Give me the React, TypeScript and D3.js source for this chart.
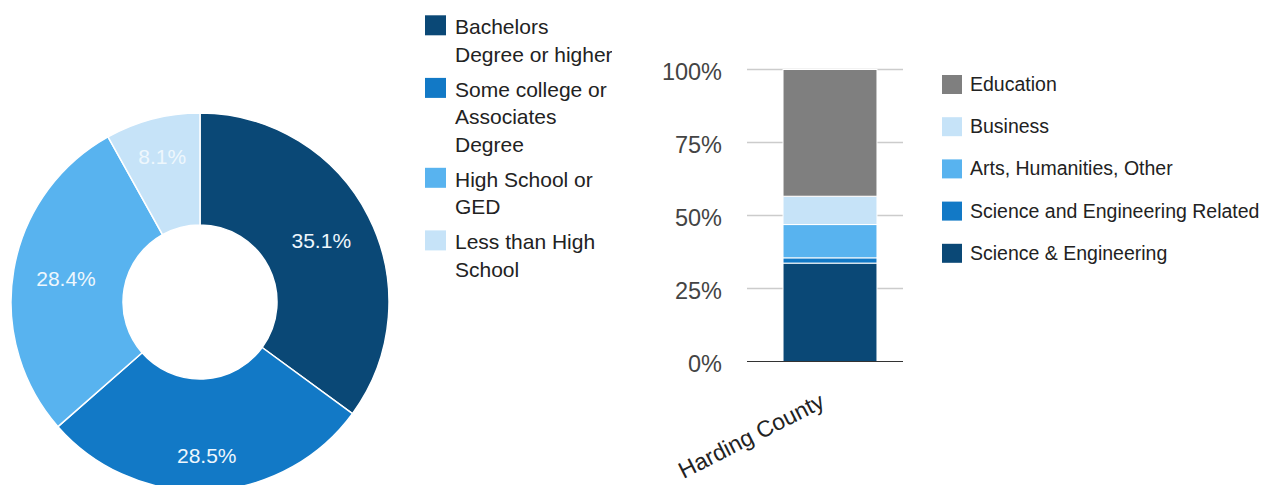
import React from "react";
import * as d3 from "d3";

// ---- Donut data (educational attainment) ----
const attainmentLabels: string[][] = [
  ["Bachelors", "Degree or higher"],
  ["Some college or", "Associates", "Degree"],
  ["High School or", "GED"],
  ["Less than High", "School"],
];
const attainmentValues = [35.1, 28.5, 28.4, 8.1];
const attainmentColors = ["#0a4876", "#1279c6", "#58b3ef", "#c6e3f8"];
const attainmentLabelRadius = [136, 154, 136, 150];

// ---- Stacked bar data (field of degree) ----
const barCategories = ["Harding County"];
const fieldNames = [
  "Science & Engineering",
  "Science and Engineering Related",
  "Arts, Humanities, Other",
  "Business",
  "Education",
];
const fieldValues = [33.7, 1.8, 11.4, 9.7, 43.4];
const fieldColors = ["#0a4876", "#1279c6", "#58b3ef", "#c6e3f8", "#7f7f7f"];
const yTicks = [0, 25, 50, 75, 100];

const FONT = "'Liberation Sans', Arial, Helvetica, sans-serif";

export default function App() {
  const W = 1273;
  const H = 485;

  // Donut geometry
  const cx = 200;
  const cy = 302;
  const outerR = 189;
  const innerR = 77;

  const pie = d3
    .pie<number>()
    .sort(null)
    .value((d) => d)
    .startAngle(0)
    .endAngle(2 * Math.PI);
  const arcs = pie(attainmentValues);
  const arcGen = d3.arc<d3.PieArcDatum<number>>().innerRadius(innerR).outerRadius(outerR);

  // Left legend layout
  const legX = 425;
  const legTextX = 455;
  const lineH = 27.3;
  const itemGap = 8;
  const firstBaseline = 34.3;
  const legendBaselines: number[] = [];
  {
    let b = firstBaseline;
    attainmentLabels.forEach((lines) => {
      legendBaselines.push(b);
      b += lines.length * lineH + itemGap;
    });
  }

  // Bar chart geometry
  const plotLeft = 747;
  const plotRight = 903;
  const y = d3.scaleLinear().domain([0, 100]).range([361.5, 69.5]);
  const x = d3
    .scaleBand<string>()
    .domain(barCategories)
    .range([plotLeft + 10, plotRight])
    .paddingInner(0)
    .paddingOuter(0.277);

  const stacked: { name: string; y0: number; y1: number; color: string }[] = [];
  {
    let acc = 0;
    fieldValues.forEach((v, i) => {
      stacked.push({ name: fieldNames[i], y0: acc, y1: acc + v, color: fieldColors[i] });
      acc += v;
    });
  }

  // Right legend (top to bottom: reverse of stack order)
  const rightLegend = fieldNames.map((n, i) => ({ name: n, color: fieldColors[i] })).reverse();
  const rlX = 942;
  const rlTextX = 970;
  const rlFirst = 84;
  const rlStep = 42.2;

  return (
    <svg
      width={W}
      height={H}
      style={{ position: "absolute", left: 0, top: 0, background: "#fff" }}
      fontFamily={FONT}
    >
      <defs>
        <clipPath id="legClip">
          <rect x={0} y={0} width={612} height={H} />
        </clipPath>
      </defs>

      {/* Donut */}
      <g transform={`translate(${cx},${cy})`}>
        {arcs.map((a, i) => (
          <path key={i} d={arcGen(a) || ""} fill={attainmentColors[i]} stroke="#fff" strokeWidth={1.5} />
        ))}
        {arcs.map((a, i) => {
          const lr = attainmentLabelRadius[i];
          const c = d3
            .arc<d3.PieArcDatum<number>>()
            .innerRadius(lr)
            .outerRadius(lr)
            .centroid(a);
          return (
            <text
              key={"l" + i}
              x={c[0]}
              y={c[1]}
              textAnchor="middle"
              dominantBaseline="central"
              fontSize={21}
              fill="#eef7fd"
            >
              {a.data.toFixed(1)}%
            </text>
          );
        })}
      </g>

      {/* Left legend */}
      <g clipPath="url(#legClip)">
        {attainmentLabels.map((lines, i) => {
          const b = legendBaselines[i];
          return (
            <g key={i}>
              <rect x={legX} y={b - 19} width={21} height={20} fill={attainmentColors[i]} />
              <text x={legTextX} y={b} fontSize={21} fill="#222">
                {lines.map((ln, j) => (
                  <tspan key={j} x={legTextX} y={b + j * lineH}>
                    {ln}
                  </tspan>
                ))}
              </text>
            </g>
          );
        })}
      </g>

      {/* Bar chart gridlines */}
      {yTicks.filter((t) => t !== 0).map((t) => (
        <line key={t} x1={plotLeft} x2={plotRight} y1={y(t)} y2={y(t)} stroke="#cccccc" strokeWidth={1.5} />
      ))}
      {yTicks.map((t) => (
        <text
          key={"t" + t}
          x={722}
          y={y(t)}
          textAnchor="end"
          dominantBaseline="central"
          dy={2}
          fontSize={23.5}
          fill="#444"
        >
          {t}%
        </text>
      ))}

      {/* Stacked bar */}
      {barCategories.map((cat) => (
        <g key={cat}>
          {stacked.map((s) => (
            <rect
              key={s.name}
              x={x(cat)}
              width={x.bandwidth()}
              y={y(s.y1)}
              height={y(s.y0) - y(s.y1)}
              fill={s.color}
              stroke="#fff"
              strokeWidth={1}
            />
          ))}
          <text
            transform={`translate(${(x(cat) || 0) + x.bandwidth() / 2 - 4},${y(0) + 45}) rotate(-27)`}
            textAnchor="end"
            fontSize={23}
            fill="#222"
          >
            {cat}
          </text>
        </g>
      ))}
      <line x1={plotLeft} x2={plotRight} y1={y(0)} y2={y(0)} stroke="#333" strokeWidth={1.2} />

      {/* Right legend */}
      {rightLegend.map((d, i) => {
        const cyL = rlFirst + i * rlStep;
        return (
          <g key={d.name}>
            <rect x={rlX} y={cyL - 9} width={20} height={19} fill={d.color} />
            <text x={rlTextX} y={cyL} dominantBaseline="central" fontSize={19.5} fill="#222">
              {d.name}
            </text>
          </g>
        );
      })}
    </svg>
  );
}
